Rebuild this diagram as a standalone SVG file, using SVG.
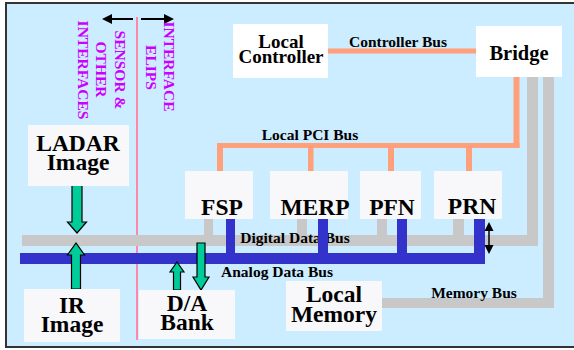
<svg xmlns="http://www.w3.org/2000/svg" width="574" height="350" viewBox="0 0 574 350">
<defs>
<style>
.t{font-family:'Liberation Serif','Times New Roman',Times,'DejaVu Serif',serif;font-weight:bold;fill:#000;text-anchor:middle}
.big{font-size:23.5px}
.mid{font-size:19px}
.lbl{font-size:15.5px}
.vt{font-family:'Liberation Serif','Times New Roman',Times,'DejaVu Serif',serif;font-weight:bold;font-size:15.5px;fill:#CC00FF;text-anchor:middle}
.box{fill:#F8F8FA}
.wbox{fill:#FFFFFF}
.org{fill:#FFA07A}
.gry{fill:#C8C8C8}
.blu{fill:#3333CC}
.grn{fill:#00CC99;stroke:#000;stroke-width:1.2}
</style>
</defs>
<rect x="6" y="3" width="569" height="344" fill="#CCECFF" stroke="#333" stroke-width="2"/>
<line x1="137" y1="17" x2="137" y2="340" stroke="#FF88AA" stroke-width="2"/>

<g id="interface-labels">
<line x1="133" y1="19" x2="110" y2="19" stroke="#000" stroke-width="2"/>
<polygon points="102,19 112,14 112,24" fill="#000"/>
<line x1="141" y1="19" x2="165" y2="19" stroke="#000" stroke-width="2"/>
<polygon points="174,19 164,14 164,24" fill="#000"/>
<text class="vt" x="120.5" y="75.1" transform="rotate(90 120.5 70)">SENSOR &amp;</text>
<text class="vt" x="101.5" y="74.6" transform="rotate(90 101.5 69.5)">OTHER</text>
<text class="vt" x="83" y="75.1" transform="rotate(90 83 70)">INTERFACES</text>
<text class="vt" x="151" y="72.6" transform="rotate(90 151 67.5)">ELIPS</text>
<text class="vt" x="169" y="71.6" transform="rotate(90 169 66.5)">INTERFACE</text>
</g>

<g id="connectors">
<rect class="org" x="328" y="48.5" width="148" height="5"/>
<text class="t lbl" x="398" y="47">Controller Bus</text>
<rect class="org" x="513.5" y="77" width="6" height="71"/>
<rect class="org" x="217" y="143" width="302.5" height="5"/>
<rect class="org" x="217" y="143" width="6" height="28"/>
<rect class="org" x="308" y="143" width="5.5" height="28"/>
<rect class="org" x="388" y="143" width="6" height="28"/>
<rect class="org" x="466" y="143" width="6" height="28"/>
<text class="t lbl" x="310" y="140">Local PCI Bus</text>
<rect class="gry" x="527" y="77" width="11" height="169"/>
<rect class="gry" x="22" y="235" width="516" height="11"/>
<rect class="gry" x="204" y="219" width="9" height="16"/>
<rect class="gry" x="297" y="219" width="10" height="16"/>
<rect class="gry" x="377" y="219" width="10" height="16"/>
<rect class="gry" x="453" y="219" width="11" height="16"/>
<text class="t lbl" x="295" y="243">Digital Data Bus</text>
<rect class="gry" x="543" y="77" width="11" height="231"/>
<rect class="gry" x="382" y="298" width="172" height="10"/>
<text class="t lbl" x="474" y="298">Memory Bus</text>
<rect class="blu" x="20" y="253" width="465" height="11"/>
<rect class="blu" x="226" y="218" width="9" height="40"/>
<rect class="blu" x="318" y="218" width="10" height="40"/>
<rect class="blu" x="397" y="218" width="10" height="40"/>
<rect class="blu" x="474" y="218" width="11" height="40"/>
<text class="t lbl" x="277" y="277">Analog Data Bus</text>
<line x1="489" y1="230" x2="489" y2="246" stroke="#000" stroke-width="1.5"/>
<polygon points="489,222 484.5,231 493.5,231" fill="#000"/>
<polygon points="489,254 484.5,245 493.5,245" fill="#000"/>
<polygon class="grn" points="72,185 82,185 82,222 86.5,222 77,233 67.5,222 72,222"/>
<polygon class="grn" points="76,243 84.5,255 80.5,255 80.5,289 71.5,289 71.5,255 67.5,255"/>
<polygon class="grn" points="177,262 184,272 180.5,272 180.5,290 173.5,290 173.5,272 170,272"/>
<polygon class="grn" points="197,243 205,243 205,277 209,277 201,290 193,277 197,277"/>
</g>

<g id="local-controller">
<rect class="wbox" x="233" y="24" width="95" height="54"/>
<text class="t mid" x="281" y="48">Local</text>
<text class="t mid" x="281" y="63">Controller</text>
</g>
<g id="bridge">
<rect class="wbox" x="476" y="26" width="86" height="51"/>
<text class="t" style="font-size:20.5px" x="519" y="60">Bridge</text>
</g>
<g id="ladar-image">
<rect class="box" x="28" y="125" width="101" height="61"/>
<text class="t big" x="78" y="151">LADAR</text>
<text class="t big" x="78" y="170">Image</text>
</g>
<g id="fsp">
<rect class="box" x="185" y="171" width="68" height="48"/>
<text class="t big" x="222" y="215">FSP</text>
</g>
<g id="merp">
<rect class="box" x="270" y="171" width="78" height="48"/>
<text class="t big" x="315" y="215">MERP</text>
</g>
<g id="pfn">
<rect class="box" x="360" y="171" width="61" height="48"/>
<text class="t big" x="392" y="215">PFN</text>
</g>
<g id="prn">
<rect class="box" x="434" y="171" width="68" height="48"/>
<text class="t big" x="472" y="214">PRN</text>
</g>
<g id="ir-image">
<rect class="box" x="24" y="289" width="96" height="53"/>
<text class="t big" x="72" y="313">IR</text>
<text class="t big" x="72" y="332">Image</text>
</g>
<g id="da-bank">
<rect class="box" x="139" y="290" width="96" height="49"/>
<text class="t big" x="187" y="311">D/A</text>
<text class="t big" x="187" y="330">Bank</text>
</g>
<g id="local-memory">
<rect class="box" x="286" y="281" width="96" height="50"/>
<text class="t big" x="334" y="302">Local</text>
<text class="t big" x="334" y="322">Memory</text>
</g>
</svg>
